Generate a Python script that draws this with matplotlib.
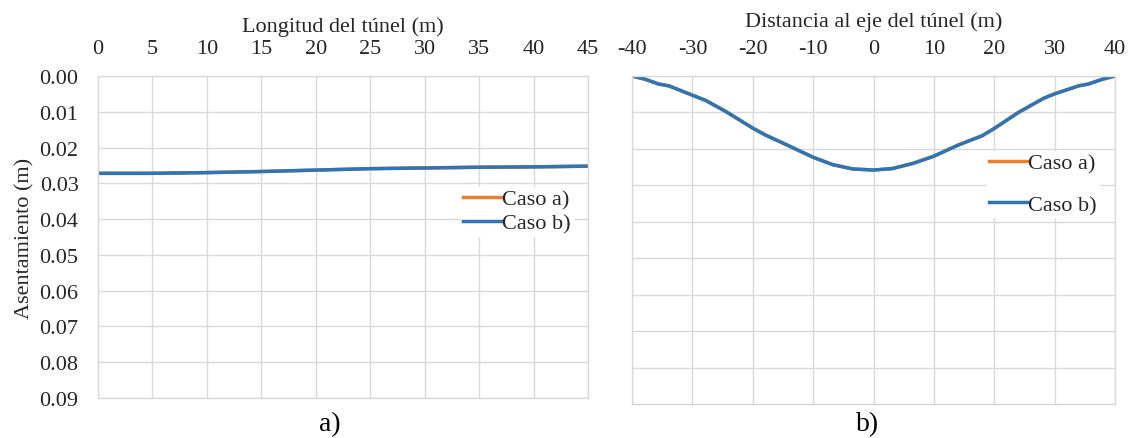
import matplotlib
matplotlib.use("Agg")
import matplotlib.pyplot as plt

plt.rcParams['font.family'] = ['Liberation Serif', 'DejaVu Serif']
plt.rcParams['axes.unicode_minus'] = False

# Panel a) - along tunnel length
long_x = [0, 5, 10, 15, 20, 25, 30, 35, 40, 45]
long_caso_a = [0.0272, 0.0272, 0.0270, 0.0267, 0.0263, 0.0259, 0.0257, 0.0255, 0.0254, 0.0252]
long_caso_b = [0.0272, 0.0272, 0.0270, 0.0267, 0.0263, 0.0259, 0.0257, 0.0255, 0.0254, 0.0252]

# Panel b) - transverse to tunnel axis
trans_x = [-40, -37.8, -35.6, -33.9, -30.1, -27.8, -24.5, -20, -17.9, -14.1, -10, -6.8, -3.5, 0,
           3.1, 6.5, 10, 14.1, 18, 19.9, 24, 28.2, 30, 34, 35.6, 37.9, 40]
trans_caso_a = [0.0, 0.0009, 0.0022, 0.0027, 0.0052, 0.0067, 0.0097, 0.0143, 0.0162, 0.0191, 0.0223,
                0.0243, 0.0255, 0.0258, 0.0254, 0.0240, 0.0220, 0.0189, 0.0164, 0.0145, 0.0100,
                0.0061, 0.0049, 0.0027, 0.0022, 0.0009, 0.0]
trans_caso_b = list(trans_caso_a)

y_ticks = [0.00, 0.01, 0.02, 0.03, 0.04, 0.05, 0.06, 0.07, 0.08, 0.09]
long_ticks = [0, 5, 10, 15, 20, 25, 30, 35, 40, 45]
trans_ticks = [-40, -30, -20, -10, 0, 10, 20, 30, 40]

orange = '#ED7D31'
blue = '#2E75B6'
grid_c = '#D9D9D9'
txt_c = '#262626'
fs = 16

fig = plt.figure(figsize=(11.29, 4.39), dpi=100)
ax1 = fig.add_axes([0.0868, 0.0911, 0.4340, 0.7335])
ax2 = fig.add_axes([0.5598, 0.0774, 0.4278, 0.7472])

def style(ax, xticks, xlim):
    ax.set_xlim(*xlim)
    ax.set_ylim(0.09, 0.0)
    ax.set_xticks(xticks)
    ax.set_yticks(y_ticks)
    ax.xaxis.tick_top()
    ax.xaxis.set_label_position('top')
    ax.grid(True, color=grid_c, linewidth=1.0)
    ax.set_axisbelow(True)
    for s in ax.spines.values():
        s.set_color(grid_c)
        s.set_linewidth(1.0)
    ax.tick_params(length=0, labelsize=fs, colors=txt_c, pad=13)

style(ax1, long_ticks, (0, 45))
ax1.set_yticklabels([f"{v:.2f}" for v in y_ticks])
ax1.tick_params(axis='y', pad=14)
ax1.plot(long_x, long_caso_a, color=orange, lw=2.5, label='Caso a)')
ax1.plot(long_x, long_caso_b, color=blue, lw=2.5, label='Caso b)')
ax1.set_xlabel('Longitud del túnel (m)', fontsize=fs, color=txt_c, labelpad=6)
ax1.set_ylabel('Asentamiento (m)', fontsize=fs, color=txt_c, labelpad=4)
leg1 = ax1.legend(loc='upper left', bbox_to_anchor=(0.74, 0.655), frameon=True, fontsize=fs,
                  handlelength=1.7, handletextpad=0.05, borderpad=0.1, labelspacing=0.15,
                  fancybox=False, borderaxespad=0)
leg1.get_frame().set_edgecolor('white')
leg1.get_frame().set_facecolor('white')
leg1.get_frame().set_alpha(1)
for t in leg1.get_texts():
    t.set_color(txt_c)

style(ax2, trans_ticks, (-40, 40))
ax2.tick_params(axis='y', labelleft=False)
ax2.plot(trans_x, trans_caso_a, color=orange, lw=2.5, label='Caso a)')
ax2.plot(trans_x, trans_caso_b, color=blue, lw=2.5, label='Caso b)')
ax2.set_xlabel('Distancia al eje del túnel (m)', fontsize=fs, color=txt_c, labelpad=9)
leg2 = ax2.legend(loc='upper left', bbox_to_anchor=(0.735, 0.772), frameon=True, fontsize=fs,
                  handlelength=1.7, handletextpad=0.05, borderpad=0.1, labelspacing=0.95,
                  fancybox=False, borderaxespad=0)
leg2.get_frame().set_edgecolor('white')
leg2.get_frame().set_facecolor('white')
leg2.get_frame().set_alpha(1)
for t in leg2.get_texts():
    t.set_color(txt_c)

fig.text(330 / 1129, 1 - 425 / 439, 'a)', fontsize=20, color='black', ha='center', va='center')
fig.text(868 / 1129, 1 - 425 / 439, 'b)', fontsize=20, color='black', ha='center', va='center')

fig.savefig('out.png', dpi=100)
